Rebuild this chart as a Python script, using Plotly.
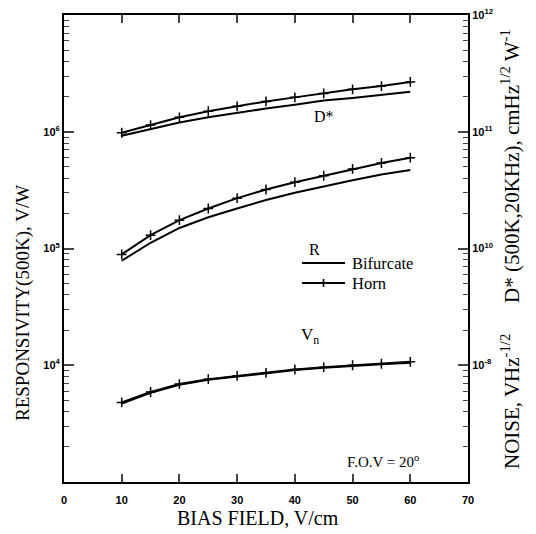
import plotly.graph_objects as go

# ---- data ----
bias = [10, 15, 20, 25, 30, 35, 40, 45, 50, 55, 60]

# Responsivity (500K), V/W  (left axis)
r_bifurcate = [7.85e4, 1.12e5, 1.50e5, 1.85e5, 2.20e5, 2.60e5, 3.00e5, 3.40e5, 3.85e5, 4.30e5, 4.70e5]
r_horn = [8.9e4, 1.30e5, 1.75e5, 2.20e5, 2.70e5, 3.20e5, 3.70e5, 4.20e5, 4.80e5, 5.40e5, 6.00e5]

# D* (500K, 20kHz), cmHz^1/2 W^-1  (right axis, upper decades)
d_bifurcate = [9.25e10, 1.05e11, 1.20e11, 1.33e11, 1.46e11, 1.58e11, 1.70e11, 1.85e11, 1.95e11, 2.08e11, 2.20e11]
d_horn = [9.8e10, 1.14e11, 1.33e11, 1.50e11, 1.65e11, 1.82e11, 1.97e11, 2.13e11, 2.31e11, 2.46e11, 2.67e11]

# Noise, V Hz^-1/2  (right axis, lowest decade)
vn_bifurcate = [4.7e-9, 5.8e-9, 6.8e-9, 7.5e-9, 8.0e-9, 8.5e-9, 9.1e-9, 9.5e-9, 9.9e-9, 1.02e-8, 1.05e-8]
vn_horn = [4.8e-9, 5.9e-9, 6.9e-9, 7.6e-9, 8.1e-9, 8.6e-9, 9.2e-9, 9.6e-9, 1.0e-8, 1.03e-8, 1.07e-8]

left_ticks = [1e4, 1e5, 1e6]
left_ticktext = ["10<sup>4</sup>", "10<sup>5</sup>", "10<sup>6</sup>"]
right_ticks = [1e9, 1e10, 1e11, 1e12]
right_ticktext = ["10<sup>-8</sup>", "10<sup>10</sup>", "10<sup>11</sup>", "10<sup>12</sup>"]
x_ticks = [0, 10, 20, 30, 40, 50, 60, 70]

BLACK = "black"
LW = 2
SERIF = "Liberation Serif"
SANS = "Liberation Sans"

# plot-area geometry in pixels (used only to place decorations / text)
L, R_, T, B = 64, 468, 15, 482
def px(xp):
    return (xp - L) / (R_ - L)
def py(yp):
    return (B - yp) / (B - T)

horn_marker = dict(symbol="cross-thin", size=7, line=dict(width=1.5, color=BLACK), color=BLACK)

fig = go.Figure()

fig.add_trace(go.Scatter(x=bias, y=r_bifurcate, mode="lines", name="Bifurcate",
                         line=dict(color=BLACK, width=LW), yaxis="y"))
fig.add_trace(go.Scatter(x=bias, y=r_horn, mode="lines+markers", name="Horn",
                         line=dict(color=BLACK, width=LW), marker=horn_marker, yaxis="y"))
fig.add_trace(go.Scatter(x=bias, y=d_bifurcate, mode="lines",
                         line=dict(color=BLACK, width=LW), yaxis="y2"))
fig.add_trace(go.Scatter(x=bias, y=d_horn, mode="lines+markers",
                         line=dict(color=BLACK, width=LW), marker=horn_marker, yaxis="y2"))
fig.add_trace(go.Scatter(x=bias, y=vn_bifurcate, mode="lines",
                         line=dict(color=BLACK, width=LW), yaxis="y3"))
fig.add_trace(go.Scatter(x=bias, y=vn_horn, mode="lines+markers",
                         line=dict(color=BLACK, width=LW), marker=horn_marker, yaxis="y3"))

tickfont = dict(family=SANS, size=11, color=BLACK, weight="bold")
minor = dict(ticks="inside", ticklen=5, tickwidth=1.3, showgrid=False, dtick="D1")

# legend drawn as decorations
leg_x0, leg_x1, leg_tx = 302, 345, 350
leg_y1, leg_y2 = 263, 283
shapes = [
    dict(type="line", xref="paper", yref="paper", x0=px(leg_x0), x1=px(leg_x1),
         y0=py(leg_y1), y1=py(leg_y1), line=dict(color=BLACK, width=2)),
    dict(type="line", xref="paper", yref="paper", x0=px(leg_x0), x1=px(leg_x1),
         y0=py(leg_y2), y1=py(leg_y2), line=dict(color=BLACK, width=2)),
    dict(type="line", xref="paper", yref="paper", x0=px((leg_x0 + leg_x1) / 2),
         x1=px((leg_x0 + leg_x1) / 2), y0=py(leg_y2 - 4), y1=py(leg_y2 + 4),
         line=dict(color=BLACK, width=1.6)),
]

def txt(text, x, y, size=16, angle=0, xanchor="center"):
    return dict(text=text, x=px(x), y=py(y), xref="paper", yref="paper", showarrow=False,
                textangle=angle, xanchor=xanchor, yanchor="middle",
                font=dict(family=SERIF, size=size, color=BLACK))

annotations = [
    txt("Bifurcate", leg_tx, leg_y1, 16.5, xanchor="left"),
    txt("Horn", leg_tx, leg_y2, 16.5, xanchor="left"),
    txt("D*", 324, 117, 16),
    txt("R", 314, 249, 16),
    txt("V<sub>n</sub>", 310, 336, 17),
    txt("F.O.V = 20<sup>o</sup>", 383, 461, 15),
    txt("BIAS FIELD, V/cm", 258, 518, 20),
    txt("RESPONSIVITY(500K), V/W", 23, 303, 19, angle=-90),
    txt("D* (500K,20KHz), cmHz<sup>1/2</sup> W<sup>-1</sup>", 510, 166, 21, angle=-90),
    txt("NOISE, VHz<sup>-1/2</sup>", 510, 402, 21, angle=-90),
]

fig.update_layout(
    width=536, height=534,
    margin=dict(l=L, r=536 - R_, t=T, b=534 - B, autoexpand=False),
    paper_bgcolor="white", plot_bgcolor="white",
    font=dict(family=SERIF, color=BLACK),
    showlegend=False,
    xaxis=dict(range=[0, 70], tickvals=x_ticks, ticks="inside", ticklen=8, tickwidth=1.5,
               showline=True, linewidth=2, linecolor=BLACK, mirror="ticks",
               showgrid=False, zeroline=False, tickfont=tickfont, automargin=False,
               ticklabelstandoff=7),
    yaxis=dict(type="log", range=[3, 7], tickvals=left_ticks, ticktext=left_ticktext,
               ticks="inside", ticklen=10, tickwidth=1.5, showline=True, linewidth=2,
               linecolor=BLACK, showgrid=False, zeroline=False, tickfont=tickfont,
               minor=minor, automargin=False),
    yaxis2=dict(type="log", range=[8, 12], overlaying="y", side="right",
                tickvals=right_ticks, ticktext=right_ticktext,
                ticks="inside", ticklen=10, tickwidth=1.5, showline=True, linewidth=2,
                linecolor=BLACK, showgrid=False, zeroline=False, tickfont=tickfont,
                minor=minor, automargin=False),
    yaxis3=dict(type="log", range=[-9, -5], overlaying="y", visible=False),
    shapes=shapes,
    annotations=annotations,
)

fig.write_html("out.html", config={"displayModeBar": False},
               post_script="document.body.style.margin='0px';")
